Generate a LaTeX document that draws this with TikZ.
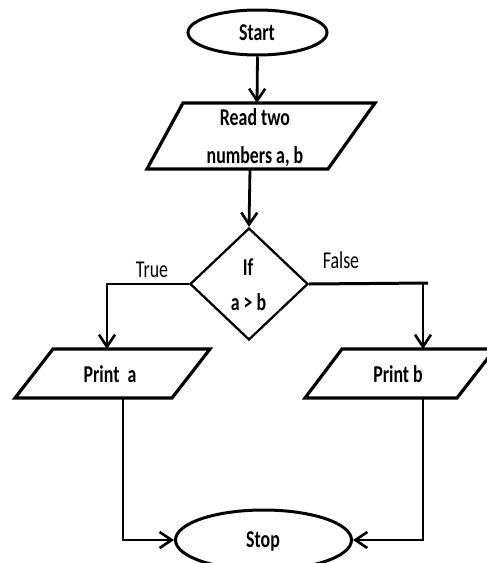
\documentclass[tikz,border=0pt]{standalone}
\usepackage{fontspec}
\usepackage{graphicx}
\setmainfont{Carlito}
\usetikzlibrary{shapes.geometric,arrows.meta}
\newcommand{\tall}[1]{\scalebox{1.02}[1.38]{#1}}
\tikzset{
  lbl/.style={anchor=base, inner sep=0pt, font=\fontsize{17.5}{20}\selectfont\bfseries},
  plain/.style={anchor=base, inner sep=0pt, font=\fontsize{17.5}{20}\selectfont},
  edge/.style={line width=3pt},
  shapeline/.style={line width=3.2pt, line join=miter},
  arr/.style={line width=2.8pt, -{Straight Barb[length=12pt,width=16pt,line width=2.6pt]}},
  term/.style={ellipse, draw, line width=3pt, inner sep=0pt}
}
\begin{document}
\begin{tikzpicture}[x=1pt,y=-1pt]
\useasboundingbox (0,0) rectangle (487,563);
\clip (0,0) rectangle (487,563);
\fill[white] (0,0) rectangle (487,563);

% terminals
\node[term, minimum width=139pt, minimum height=45pt] (start) at (257.5,32.5) {};
\node[lbl] (starttxt) at (257,40) {\tall{Start}};
\node[term, minimum width=176pt, minimum height=60pt] (stop) at (263.5,540) {};
\node[lbl] (stoptxt) at (263,547) {\tall{Stop}};

% input parallelogram
\draw[shapeline] (183,103) -- (375,103) -- (328,169) -- (147,169) -- cycle;
\coordinate (readtop) at (257,103);
\coordinate (readbot) at (250,169);
\node[lbl] (read1) at (255,125) {\tall{Read two}};
\node[lbl] (read2) at (255,163) {\tall{numbers a, b}};

% decision
\node[diamond, draw, line width=2.3pt, minimum width=118pt, minimum height=112pt, inner sep=0pt] (cond) at (249,284) {};
\node[lbl] (cond1) at (248,275) {\tall{If}};
\node[lbl] (cond2) at (248.5,310) {\tall{a > b}};
\node[plain] (true) at (152,277) {\tall{True}};
\node[plain] (false) at (341,268) {\tall{False}};

% output parallelograms
\draw[shapeline] (53,349) -- (210,349) -- (172,398) -- (15,398) -- cycle;
\coordinate (patop) at (107,349);
\coordinate (pabot) at (123,398);
\node[lbl] (printa) at (110,382) {\tall{Print\ \ a}};

\draw[shapeline] (342,349) -- (495,349) -- (457,398) -- (305,398) -- cycle;
\coordinate (pbtop) at (423,349);
\coordinate (pbbot) at (423,398);
\node[lbl] (printb) at (398,382) {\tall{Print b}};

% connectors
\draw[arr] (start.south) -- (readtop);
\draw[arr] (readbot) -- (cond.north);
\draw[arr] (cond.west) -| (patop);
\coordinate (fend) at (428,283);
\draw[edge] (cond.east) -- (fend);
\draw[arr] (cond.east -| pbtop) -- (pbtop);
\draw[arr] (pabot) |- (stop.west);
\draw[arr] (pbbot) |- (stop.east);
\end{tikzpicture}
\end{document}
